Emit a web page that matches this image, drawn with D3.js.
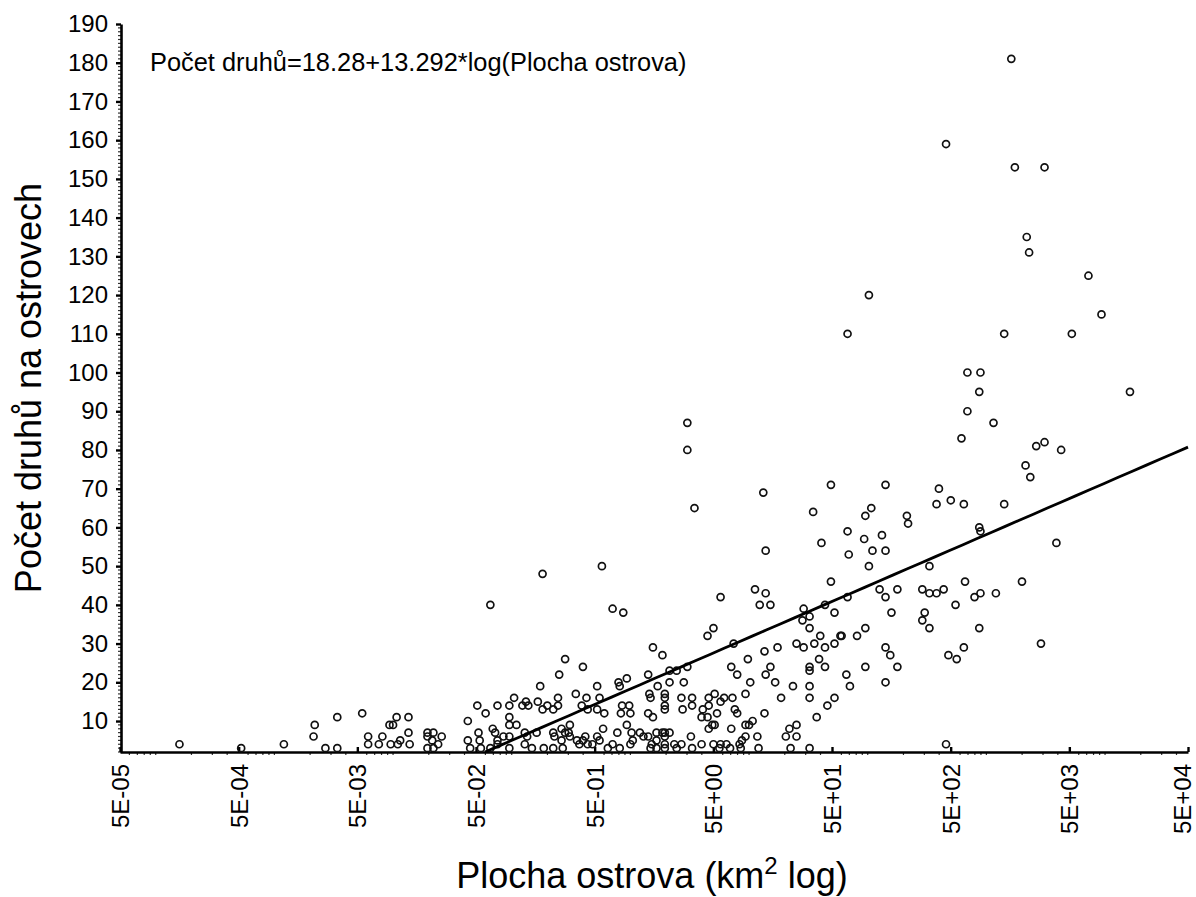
<!DOCTYPE html>
<html><head><meta charset="utf-8">
<script src="https://cdn.jsdelivr.net/npm/d3@7"></script>
<style>
body{margin:0;background:#fff}
svg{display:block}
text{font-family:"Liberation Sans",Arial,sans-serif;fill:#000}
</style>
</head><body>
<svg id="chart" width="1196" height="897"></svg>
<script>
// ---- data ----
const xTickValues = [5e-5, 5e-4, 5e-3, 5e-2, 5e-1, 5e0, 5e1, 5e2, 5e3, 5e4];
const xTickLabels = ["5E-05","5E-04","5E-03","5E-02","5E-01","5E+00","5E+01","5E+02","5E+03","5E+04"];
const yTickValues = [10,20,30,40,50,60,70,80,90,100,110,120,130,140,150,160,170,180,190];
const yDomain = [2, 190];
const regIntercept = 18.28;
const regSlope = 13.292;
const equationText = "Počet druhů=18.28+13.292*log(Plocha ostrova)";
const yTitle = "Počet druhů na ostrovech";
// islands: [log10(area km2), number of species]
const islands = [
[-3.80,4],[-3.28,3],[-2.92,4],[-2.66,9],[-2.67,6],[-2.47,11],[-2.26,12],[-2.57,3],[-2.47,3],
[-2.21,6],[-2.21,4],[-2.12,4],[-2.09,6],[-2.02,4],[-2.03,9],[-2.00,9],[-1.97,11],[-1.96,4],
[-1.87,11],[-1.87,7],[-1.71,7],[-1.66,7],[-1.59,6],[-1.71,6],[-1.94,5],[-1.86,4],[-1.67,5],
[-1.62,4],[-1.66,3],[-1.71,3],
[-1.37,10],[-1.28,7],[-1.37,5],[-1.27,5],[-1.26,3],[-1.14,7],[-1.12,5],[-1.12,4],[-1.18,3],
[-1.18,40],[-1.29,14],[-1.22,12],[-1.12,14],[-1.02,14],[-0.91,14],[-0.88,15],[-0.86,14],
[-0.78,15],[-0.70,14],[-0.74,13],[-0.65,13],[-0.61,14],[-1.02,11],[-1.02,9],[-0.96,9],
[-1.07,6],[-1.02,6],[-0.89,7],[-0.87,6],[-0.79,7],[-0.65,7],[-0.64,6],[-0.55,7],[-0.51,9],
[-0.52,7],[-0.74,48],[-0.55,26],[-0.40,24],[-0.60,22],[-0.76,19],[-0.61,16],[-0.98,16],
[-0.46,17],[-0.37,16],[-0.28,19],[-0.26,16],[-0.10,20],[-0.03,21],[-0.09,19],[0.15,22],
[0.16,17],[0.17,16],[0.23,19],[-0.41,14],[-0.28,13],[-0.22,12],[-0.36,13],[-0.07,14],
[-0.01,14],[-0.08,12],[0.00,12],[-0.11,7],[-0.03,9],[0.01,7],[0.15,12],[0.19,11],
[-0.15,39],[-0.06,38],[-0.24,50],[0.19,29],[0.27,27],
[-0.40,5],[-0.45,5],[-0.32,4],[-0.26,5],[-0.15,4],[0.00,4],[0.08,7],[0.11,6],[0.02,5],
[0.15,6],[0.22,7],[0.27,7],[0.29,6],[0.22,5],[0.18,4],[0.17,3],[0.22,3],[-0.89,4],[-0.83,3],
[-0.65,3],[-0.58,5],[-0.57,3],[-0.73,3],[-0.43,4],[-0.36,4],[-0.19,3],[-0.09,3],
[-1.16,8],[-0.58,8],[-0.51,6],[-0.38,6],[-0.28,6],[-0.23,8],[-1.35,3],[-1.02,3],
[1.05,44],[1.14,43],[1.09,40],[1.18,40],[0.76,42],[2.10,44],[2.15,42],[1.83,42],[1.64,40],
[1.72,38],[2.20,38],[1.46,39],[1.51,37],[1.45,36],[1.51,34],[0.65,32],[0.70,34],[0.87,30],
[1.60,32],[1.55,30],[1.40,30],[1.46,29],[1.64,29],[1.72,30],[1.77,32],[1.78,32],[1.91,32],
[1.98,34],[1.13,28],[1.24,29],[0.99,26],[0.85,24],[1.18,24],[1.14,22],[0.90,22],[1.22,20],
[1.01,20],[0.97,17],[1.59,26],[1.51,24],[1.51,23],[1.64,24],[1.37,19],[1.51,19],[1.51,16],
[1.72,16],[1.66,14],[1.57,11],[1.82,22],[1.85,19],[1.98,24],[2.15,29],[2.19,27],[2.15,20],
[2.25,24],[2.25,44],[0.45,20],[0.43,16],[0.52,16],[0.52,14],[0.44,13],[0.33,23],[0.39,23],
[0.48,24],[0.33,20],[0.29,17],[0.29,16],[0.29,14],[0.29,13],[0.61,13],[0.66,14],[0.71,17],
[0.66,16],[0.76,15],[0.79,16],[0.86,16],[0.73,12],[0.60,11],[0.65,11],[0.69,9],[0.71,9],
[0.66,8],[0.88,13],[0.90,12],[0.85,8],[0.51,6],[0.97,9],[1.00,9],[1.03,10],[0.97,6],[1.07,6],
[1.13,12],[1.27,16],[1.34,8],[1.31,6],[1.40,9],[1.40,6],[0.29,7],[0.33,7],[0.29,4],[0.29,3],
[0.37,4],[0.43,4],[0.52,3],[0.60,4],[0.70,4],[0.76,4],[0.75,3],[0.81,4],[0.84,3],[0.92,4],
[0.94,5],[0.93,3],[1.08,3],[1.35,3],[1.51,3],[0.39,3],
[0.48,87],[0.48,80],[0.54,65],[1.12,69],[1.69,71],[2.15,71],[1.54,64],[2.03,65],[1.98,63],
[1.83,59],[2.12,58],[1.61,56],[1.97,57],[2.04,54],[2.15,54],[1.14,54],[1.84,53],[2.01,50],
[1.69,46],[2.01,120],[1.83,110],
[3.21,181],[2.66,159],[3.24,153],[3.49,153],[3.34,135],[3.36,131],[3.86,125],[3.97,115],
[3.15,110],[3.72,110],[2.84,100],[2.95,100],[2.94,95],[4.21,95],[2.84,90],[3.06,87],[2.79,83],
[3.42,81],[3.49,82],[3.63,80],[3.33,76],[3.37,73],[2.60,70],[2.58,66],[2.70,67],[2.81,66],
[3.15,66],[2.33,63],[2.34,61],[2.94,60],[2.95,59],[3.59,56],[2.52,50],[2.46,44],[2.52,43],
[2.58,43],[2.64,44],[2.82,46],[3.30,46],[2.95,43],[2.90,42],[3.08,43],[2.74,40],[2.48,38],
[2.46,36],[2.52,34],[2.94,34],[3.46,30],[2.81,29],[2.68,27],[2.75,26],[2.66,4]
];

// ---- layout ----
const svg = d3.select("#chart");
const plotLeft = 121, plotRight = 1188, plotTop = 24, plotBottom = 752;

const x = d3.scaleLog().domain([xTickValues[0], xTickValues[xTickValues.length-1]]).range([120, plotRight]);
const y = d3.scaleLinear().domain(yDomain).range([plotBottom, plotTop]);

// minor ticks x (log)
const xMinor = [];
for (let k = -5; k <= 4; k++) for (let m = 1; m <= 9; m++) {
  const v = m * Math.pow(10, k);
  if (v > x.domain()[0]*1.0001 && v < x.domain()[1]*0.9999 && m !== 5) xMinor.push(v);
}
svg.append("g").selectAll("line").data(xMinor).join("line")
  .attr("x1", d => x(d)).attr("x2", d => x(d))
  .attr("y1", plotBottom).attr("y2", plotBottom + 3)
  .attr("stroke", "#333").attr("stroke-width", 1.2);

// minor ticks y
const yMinor = d3.range(yDomain[0], yDomain[1] + 1, 1).filter(v => v % 10 !== 0);
svg.append("g").selectAll("line").data(yMinor).join("line")
  .attr("x1", plotLeft - 3).attr("x2", plotLeft)
  .attr("y1", d => y(d)).attr("y2", d => y(d))
  .attr("stroke", "#333").attr("stroke-width", 1.2);

// y axis
const yAxis = svg.append("g").attr("transform", `translate(${plotLeft},0)`)
  .call(d3.axisLeft(y).tickValues(yTickValues).tickSize(5).tickSizeOuter(0).tickPadding(8));
yAxis.select(".domain").attr("stroke", "#000").attr("stroke-width", 2.6);
yAxis.selectAll(".tick line").attr("stroke", "#000").attr("stroke-width", 2.4);
yAxis.selectAll(".tick text").attr("font-size", 24).attr("font-family", '"Liberation Sans",Arial,sans-serif').attr("fill", "#000");

// x axis
const xAxis = svg.append("g").attr("transform", `translate(0,${plotBottom})`)
  .call(d3.axisBottom(x).tickValues(xTickValues).tickSize(-5).tickSizeOuter(0)
    .tickFormat((d, i) => xTickLabels[i]));
xAxis.select(".domain").attr("stroke", "#000").attr("stroke-width", 2.6);
xAxis.selectAll(".tick line").attr("stroke", "#000").attr("stroke-width", 2.4);
xAxis.selectAll(".tick text")
  .attr("font-size", 24).attr("font-family", '"Liberation Sans",Arial,sans-serif').attr("fill", "#000")
  .attr("transform", "rotate(-90)")
  .attr("x", -12)
  .attr("y", (d, i) => i === xTickValues.length - 1 ? -6 : 0)
  .attr("dy", "0.36em")
  .attr("text-anchor", "end");

// points
svg.append("g").selectAll("circle").data(islands).join("circle")
  .attr("cx", d => x(Math.pow(10, d[0])))
  .attr("cy", d => y(d[1]))
  .attr("r", 3.5)
  .attr("fill", "none")
  .attr("stroke", "#111")
  .attr("stroke-width", 1.7);

// regression line
const lStart = (yDomain[0] - regIntercept) / regSlope;
const lEnd = Math.log10(x.domain()[1]);
const lineData = d3.range(0, 51).map(i => lStart + (lEnd - lStart) * i / 50);
svg.append("path")
  .datum(lineData)
  .attr("fill", "none").attr("stroke", "#000").attr("stroke-width", 2.8)
  .attr("d", d3.line().x(l => x(Math.pow(10, l))).y(l => y(regIntercept + regSlope * l)));

// equation
svg.append("text").attr("x", 150).attr("y", 71).attr("font-size", 25.4).text(equationText);

// axis titles
svg.append("text")
  .attr("transform", `translate(41,${(plotTop + plotBottom) / 2}) rotate(-90)`)
  .attr("text-anchor", "middle").attr("font-size", 36).text(yTitle);

const xt = svg.append("text").attr("x", 652).attr("y", 888).attr("text-anchor", "middle").attr("font-size", 36);
xt.append("tspan").text("Plocha ostrova (km");
xt.append("tspan").attr("font-size", 24).attr("dy", -14).text("2");
xt.append("tspan").attr("dy", 14).text("  log)");
</script>
</body></html>
